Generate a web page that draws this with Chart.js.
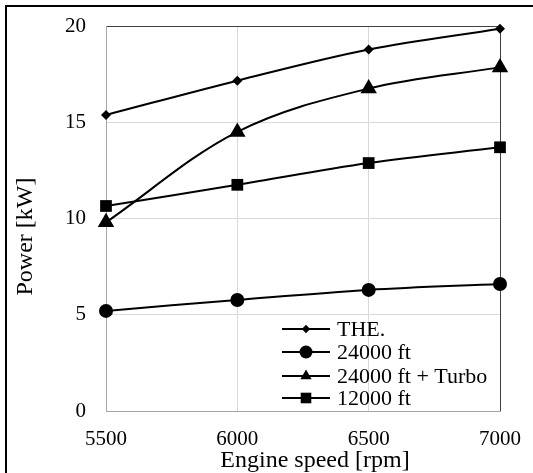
<!DOCTYPE html>
<html>
<head>
<meta charset="utf-8">
<script src="https://cdn.jsdelivr.net/npm/chart.js@4.4.1/dist/chart.umd.min.js"></script>
<style>
  html, body { margin: 0; padding: 0; background: #fff; }
  #wrap { position: relative; width: 533px; height: 473px; overflow: hidden; }
  #frame {
    position: absolute; left: 5px; top: 5px; width: 600px; height: 600px;
    border-left: 2px solid #000; border-top: 2px solid #000;
  }
  #powerChart { position: absolute; left: 0; top: 0; }
</style>
</head>
<body>
<div id="wrap">
  <div id="frame"></div>
  <canvas id="powerChart" width="533" height="473"></canvas>
</div>
<script>
/* ===================== DATA ===================== */
const speeds = [5500, 6000, 6500, 7000];
const theValues = [15.38, 17.16, 18.78, 19.86];
const alt24Values = [5.2, 5.77, 6.29, 6.6];
const turboValues = [9.8, 14.5, 16.75, 17.85];
const alt12Values = [10.65, 11.75, 12.88, 13.7];

const seriesNames = ["THE.", "24000 ft", "24000 ft + Turbo", "12000 ft"];
const xTicks = [5500, 6000, 6500, 7000];
const yTicks = [0, 5, 10, 15, 20];

/* ===================== STYLE ===================== */
const SERIF = "'Liberation Serif', 'Times New Roman', serif";
const markerStyles = ["rectRot", "circle", "triangle", "rect"];
const markerRadius = [5, 7, 9.5, 8.3];
const legendRadius = [4.2, 6.5, 6.5, 7.5];

function toPoints(values) {
  return speeds.map((x, i) => ({ x: x, y: values[i] }));
}

function makeDataset(i, values) {
  return {
    label: seriesNames[i],
    data: toPoints(values),
    borderColor: "#000",
    borderWidth: 2,
    pointStyle: markerStyles[i],
    pointRadius: markerRadius[i],
    pointHoverRadius: markerRadius[i],
    pointBackgroundColor: "#000",
    pointBorderColor: "#000",
    pointBorderWidth: 0,
    tension: 0.35,
    fill: false,
    clip: false
  };
}

/* ===================== LEGEND (inside plot) ===================== */
const insideLegend = {
  id: "insideLegend",
  afterDatasetsDraw(chart) {
    const ctx = chart.ctx;
    const area = chart.chartArea;
    const rowOffsets = [-82, -59, -35, -13];
    ctx.save();
    ctx.font = "22px " + SERIF;
    ctx.textBaseline = "middle";
    ctx.fillStyle = "#000";
    ctx.strokeStyle = "#000";
    chart.data.datasets.forEach((ds, i) => {
      const y = area.bottom + rowOffsets[i];
      const x0 = area.right - 218;
      const x1 = area.right - 170;
      ctx.lineWidth = 2;
      ctx.beginPath();
      ctx.moveTo(x0, y);
      ctx.lineTo(x1, y);
      ctx.stroke();
      Chart.helpers.drawPoint(ctx, {
        pointStyle: markerStyles[i],
        radius: legendRadius[i],
        rotation: 0,
        borderWidth: 0
      }, (x0 + x1) / 2, y);
      ctx.fillText(ds.label, area.right - 163, y + 1);
    });
    ctx.restore();
  }
};

/* ===================== CHART ===================== */
const powerChart = new Chart(document.getElementById("powerChart"), {
  type: "line",
  data: {
    datasets: [
      makeDataset(0, theValues),
      makeDataset(1, alt24Values),
      makeDataset(2, turboValues),
      makeDataset(3, alt12Values)
    ]
  },
  options: {
    responsive: false,
    animation: false,
    devicePixelRatio: 1,
    layout: { padding: { left: 0, top: 26, right: 33, bottom: 0 } },
    plugins: {
      legend: { display: false },
      tooltip: { enabled: false }
    },
    scales: {
      x: {
        type: "linear",
        min: 5500,
        max: 7000,
        afterBuildTicks: (s) => { s.ticks = xTicks.map(v => ({ value: v })); },
        afterFit: (s) => {
          // fixed axis box, no extra side padding for the end labels
          s.height = 62;
          s.paddingLeft = 0;
          s.paddingRight = 0;
        },
        grid: {
          drawTicks: false,
          lineWidth: 1,
          color: (c) => (c.tick && c.tick.value === 7000 ? "#404040" : "#d9d9d9")
        },
        border: { color: "#a6a6a6", width: 1 },
        ticks: {
          padding: 16,
          color: "#000",
          font: { family: SERIF, size: 21 },
          maxRotation: 0,
          callback: (v) => String(v)
        },
        title: {
          display: true,
          text: "    Engine speed [rpm]",
          color: "#000",
          font: { family: SERIF, size: 24, lineHeight: 1.05 },
          padding: { top: 0, bottom: 0 }
        }
      },
      y: {
        min: 0,
        max: 20,
        afterBuildTicks: (s) => { s.ticks = yTicks.map(v => ({ value: v })); },
        afterFit: (s) => {
          s.width = 106;
          s.paddingTop = 0;
          s.paddingBottom = 0;
        },
        grid: {
          drawTicks: false,
          lineWidth: 1,
          color: (c) => (c.tick && c.tick.value === 20 ? "#404040" : "#d9d9d9")
        },
        border: { color: "#a6a6a6", width: 1 },
        ticks: {
          padding: 20,
          color: "#000",
          font: { family: SERIF, size: 21 },
          callback: (v) => String(v)
        },
        title: {
          display: true,
          text: "Power [kW]      ",
          color: "#000",
          font: { family: SERIF, size: 24 },
          padding: { top: 11, bottom: 0 }
        }
      }
    }
  },
  plugins: [insideLegend]
});
</script>
</body>
</html>
